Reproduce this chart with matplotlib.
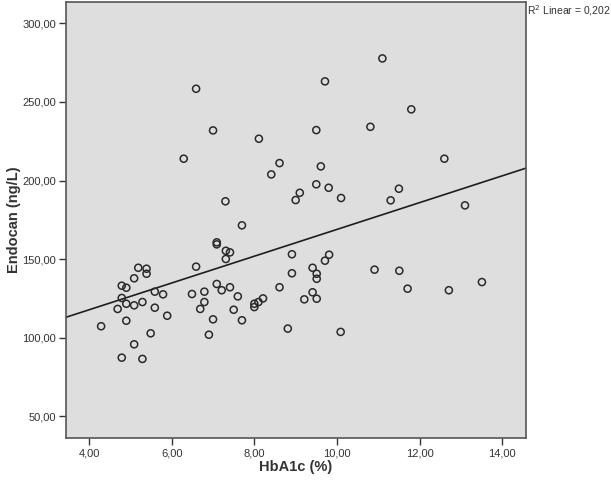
import numpy as np
import matplotlib
matplotlib.use("Agg")
import matplotlib.pyplot as plt
from matplotlib.ticker import FuncFormatter

plt.rcParams["font.family"] = ["Liberation Sans", "DejaVu Sans"]

# HbA1c (%) vs Endocan (ng/L)
hba1c = [6.59, 9.71, 7.00, 8.11, 9.50, 6.29, 8.61, 8.41, 9.61, 9.10,
         9.00, 9.50, 9.80, 10.10, 7.30, 7.70, 11.10, 11.80, 10.81, 12.60,
         11.50, 11.30, 13.10,
         7.09, 7.09, 7.31, 7.41, 7.31, 6.59, 5.19, 5.39, 5.39, 5.09,
         4.79, 4.90, 5.59, 5.79, 4.79, 4.90, 5.09, 5.29, 4.69, 5.59,
         4.90, 5.89, 4.29, 5.49, 5.09, 4.79, 5.29, 6.49, 6.79, 6.79,
         6.69, 7.00, 6.90, 7.09, 7.21, 7.41, 7.60, 7.50, 7.70, 8.00,
         8.00, 8.10, 8.21, 8.61, 8.91, 8.91, 8.81, 9.21, 9.41, 9.51,
         9.51, 9.41, 9.51, 9.71, 9.81, 10.09, 10.91, 11.51, 11.71, 12.71,
         13.51]
endocan = [258.4, 263.1, 231.9, 226.6, 232.1, 213.9, 211.1, 203.9, 209.0, 192.2,
           187.6, 197.6, 195.4, 188.9, 186.8, 171.5, 277.7, 245.3, 234.2, 213.9,
           194.8, 187.4, 184.2,
           160.7, 159.4, 155.3, 154.3, 150.1, 145.2, 144.5, 143.9, 140.7, 137.8,
           133.1, 131.8, 129.3, 127.6, 125.3, 121.6, 120.6, 122.7, 118.3, 119.1,
           110.8, 114.0, 107.3, 102.8, 95.8, 87.3, 86.5, 127.8, 129.3, 122.7,
           118.3, 111.7, 101.9, 134.2, 130.2, 132.1, 126.3, 117.8, 111.1, 121.6,
           119.5, 122.7, 125.0, 132.1, 153.1, 141.0, 105.8, 124.4, 144.5, 140.7,
           137.5, 128.9, 124.8, 149.0, 152.8, 103.7, 143.3, 142.6, 131.2, 130.2,
           135.4]

# linear fit as drawn in the source (intercept, slope)
fit_intercept = 83.7
fit_slope = 8.52
r2_label = "R$^2$ Linear = 0,202"

xticks = [4, 6, 8, 10, 12, 14]
yticks = [50, 100, 150, 200, 250, 300]
xlim = (3.44, 14.57)
ylim = (36.0, 313.6)

fig = plt.figure(figsize=(6.11, 4.87), dpi=100)
ax = fig.add_axes([66 / 611, (487 - 438.3) / 487, (525.7 - 66) / 611, (438.3 - 2) / 487])
ax.set_facecolor("#dedede")

ax.scatter(hba1c, endocan, s=26, facecolors="none", edgecolors="#2a2a2a",
           linewidths=1.1, zorder=3)

xs = np.array(xlim)
ax.plot(xs, fit_intercept + fit_slope * xs, color="#1e1e1e", lw=1.2, zorder=2)

ax.set_xlim(*xlim)
ax.set_ylim(*ylim)
ax.set_xticks(xticks)
ax.set_yticks(yticks)
fmt = FuncFormatter(lambda v, p: ("%.2f" % v).replace(".", ","))
ax.xaxis.set_major_formatter(fmt)
ax.yaxis.set_major_formatter(fmt)
ax.tick_params(direction="out", length=5, width=1, color="#333333",
               labelsize=8, labelcolor="#333333", pad=2)

for sp in ax.spines.values():
    sp.set_color("#555555")
    sp.set_linewidth(1.2)

ax.set_xlabel("HbA1c (%)", fontsize=10.5, fontweight="bold", color="#333333")
ax.set_ylabel("Endocan (ng/L)", fontsize=10.5, fontweight="bold", color="#333333")
ax.xaxis.set_label_coords(0.5, -0.066)
ax.xaxis.label.set_va("center")
ax.yaxis.set_label_coords(-0.113, 0.5)
ax.yaxis.label.set_va("center")

fig.text(527 / 611, 1 - 11 / 487, r2_label, fontsize=7.5, color="#333333",
         ha="left", va="center")

fig.savefig("out.png", dpi=100)
